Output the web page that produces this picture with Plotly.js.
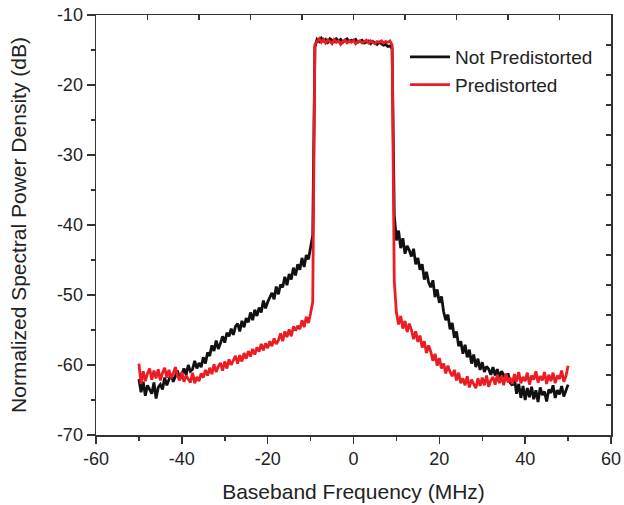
<!DOCTYPE html>
<html>
<head>
<meta charset="utf-8">
<script src="https://cdn.plot.ly/plotly-3.0.1.min.js"></script>
<style>html,body{margin:0;padding:0;background:#fff;}#chart{width:624px;height:505px;}</style>
</head>
<body>
<div id="chart"></div>
<script>
// Baseband frequency grid (MHz)
const freq = [
-50,-49.5,-49,-48.5,-48,-47.5,-47,-46.5,-46,-45.5,-45,-44.5,-44,-43.5,-43,-42.5,-42,-41.5,-41,-40.5,
-40,-39.5,-39,-38.5,-38,-37.5,-37,-36.5,-36,-35.5,-35,-34.5,-34,-33.5,-33,-32.5,-32,-31.5,-31,-30.5,
-30,-29.5,-29,-28.5,-28,-27.5,-27,-26.5,-26,-25.5,-25,-24.5,-24,-23.5,-23,-22.5,-22,-21.5,-21,-20.5,
-20,-19.5,-19,-18.5,-18,-17.5,-17,-16.5,-16,-15.5,-15,-14.5,-14,-13.5,-13,-12.5,-12,-11.5,-11,-10.5,-10,
-9.5,-9,
-8.5,-8,-7.5,-7,-6.5,-6,-5.5,-5,-4.5,-4,-3.5,-3,-2.5,-2,-1.5,-1,-0.5,0,0.5,1,1.5,2,2.5,3,3.5,4,4.5,5,5.5,6,6.5,7,7.5,8,8.5,
9,9.5,
10,10.5,11,11.5,12,12.5,13,13.5,14,14.5,15,15.5,16,16.5,17,17.5,18,18.5,19,19.5,
20,20.5,21,21.5,22,22.5,23,23.5,24,24.5,25,25.5,26,26.5,27,27.5,28,28.5,29,29.5,
30,30.5,31,31.5,32,32.5,33,33.5,34,34.5,35,35.5,36,36.5,37,37.5,38,38.5,39,39.5,
40,40.5,41,41.5,42,42.5,43,43.5,44,44.5,45,45.5,46,46.5,47,47.5,48,48.5,49,49.5,50
];

// Not Predistorted (dB)
const notPredistorted = [
-62.0,-63.9,-62.4,-64.4,-62.9,-63.6,-64.1,-62.5,-64.8,-63.2,-62.8,-63.5,-61.8,-62.9,-62.2,-61.3,-62.4,-61.7,-60.8,-62.1,
-61.2,-60.5,-61.4,-60.0,-60.9,-60.6,-59.4,-60.5,-59.7,-60.3,-58.9,-59.8,-58.2,-58.7,-57.2,-58.0,-56.5,-57.7,-56.9,-55.9,
-56.8,-55.4,-55.9,-54.8,-55.7,-54.5,-54.1,-55.2,-53.7,-54.6,-53.3,-53.9,-52.5,-53.6,-52.1,-53.0,-51.8,-52.5,-50.8,-51.9,
-51.0,-50.3,-49.7,-50.6,-48.8,-49.9,-48.5,-48.9,-47.4,-48.6,-47.0,-47.8,-46.1,-47.2,-45.6,-46.4,-44.7,-46.0,-44.3,-44.9,-43.3,
-41.5,-14.6,
-13.5,-13.8,-13.3,-13.7,-13.5,-13.9,-13.4,-13.6,-13.8,-13.4,-13.7,-13.5,-13.9,-13.6,-13.4,-13.8,-13.6,-13.7,-13.5,-13.9,
-13.7,-13.6,-14.0,-13.8,-13.7,-14.1,-13.8,-14.0,-14.2,-13.9,-14.1,-14.3,-14.2,-14.5,-14.4,
-14.8,-38.5,
-42.2,-40.8,-43.3,-41.9,-44.1,-43.0,-43.6,-44.5,-43.4,-45.6,-44.7,-46.4,-45.6,-47.8,-46.7,-48.2,-48.9,-47.9,-50.3,-49.2,
-51.1,-50.2,-52.4,-53.6,-52.8,-54.9,-54.0,-56.1,-55.2,-57.3,-56.6,-58.4,-57.1,-58.9,-57.8,-59.8,-58.5,-60.3,-59.1,-60.7,
-59.6,-61.0,-60.2,-60.6,-61.4,-60.3,-61.5,-60.6,-61.8,-60.9,-61.4,-62.0,-61.2,-62.5,-62.9,-61.9,-64.1,-62.7,-64.7,-63.0,
-65.0,-63.3,-64.6,-63.1,-64.9,-63.6,-65.3,-63.2,-64.3,-63.8,-65.2,-63.5,-64.0,-62.9,-64.7,-63.6,-64.2,-63.0,-64.5,-63.6,-62.8
];

// Predistorted (dB)
const predistorted = [
-59.8,-62.7,-60.9,-62.3,-61.2,-60.5,-62.1,-60.8,-61.9,-60.6,-62.2,-61.1,-60.4,-61.8,-60.7,-61.9,-61.2,-60.3,-61.6,-62.2,
-61.0,-62.4,-61.5,-62.0,-62.5,-61.1,-62.6,-61.7,-62.3,-61.2,-61.8,-60.7,-61.5,-60.4,-61.3,-59.9,-61.0,-60.2,-59.7,-60.8,
-59.5,-60.5,-59.2,-60.0,-59.4,-58.7,-59.8,-58.6,-59.5,-58.3,-59.1,-58.0,-58.8,-57.7,-58.5,-57.5,-58.1,-57.0,-57.9,-56.9,
-57.6,-56.6,-57.3,-56.2,-57.0,-56.5,-55.5,-56.6,-55.2,-56.0,-54.9,-55.9,-54.5,-55.1,-54.4,-54.9,-53.6,-54.6,-53.1,-54.0,-52.6,
-51.0,-14.2,
-13.7,-13.4,-13.9,-13.5,-14.0,-13.6,-13.8,-14.1,-13.5,-13.9,-13.7,-14.2,-13.8,-13.6,-14.0,-13.7,-13.9,-13.6,-14.1,-13.8,
-13.7,-14.0,-13.8,-13.6,-14.0,-13.7,-13.9,-14.1,-13.8,-13.9,-13.7,-14.0,-13.8,-13.9,-13.7,
-14.3,-48.0,
-52.5,-54.2,-53.0,-54.8,-53.7,-55.3,-54.1,-55.0,-56.3,-55.2,-56.7,-55.8,-57.5,-56.6,-58.3,-57.2,-58.1,-59.4,-58.4,-60.1,
-59.0,-60.5,-59.8,-61.2,-60.1,-61.0,-61.6,-60.7,-62.2,-61.1,-62.6,-61.9,-62.9,-61.6,-63.2,-62.1,-62.8,-63.3,-61.9,-63.0,
-61.8,-62.9,-61.5,-63.1,-62.2,-61.7,-62.8,-61.4,-62.6,-61.6,-62.9,-61.2,-62.5,-61.8,-62.7,-61.3,-62.4,-61.0,-62.6,-61.7,
-62.3,-61.1,-62.8,-61.5,-62.1,-60.9,-62.5,-61.6,-62.2,-61.0,-62.7,-61.4,-62.3,-61.1,-62.6,-61.5,-62.0,-60.8,-62.4,-61.6,-60.1
];

const seriesNames = ['Not Predistorted', 'Predistorted'];
const xTickVals = [-60, -40, -20, 0, 20, 40, 60];
const xTickText = ['-60', '-40', '-20', '0', '20', '40', '60'];
const yTickVals = [-70, -60, -50, -40, -30, -20, -10];
const yTickText = ['-70', '-60', '-50', '-40', '-30', '-20', '-10'];
const xTitle = 'Baseband Frequency (MHz)';
const yTitle = 'Normalized Spectral Power Density (dB)';

const fam = 'Liberation Sans, Arial, sans-serif';
const txt = '#222';
const axisColor = '#333';

const traces = [
  {x: freq, y: notPredistorted, name: seriesNames[0], type: 'scatter', mode: 'lines',
   line: {color: '#111111', width: 2.8}},
  {x: freq, y: predistorted, name: seriesNames[1], type: 'scatter', mode: 'lines',
   line: {color: '#ec1c24', width: 2.8}},
  // frame-only trace so the top/right tick axes are drawn
  {x: [null], y: [null], xaxis: 'x2', yaxis: 'y2', type: 'scatter', mode: 'lines',
   showlegend: false, hoverinfo: 'skip'}
];

const layout = {
  width: 624, height: 505,
  margin: {l: 96, r: 13, t: 15, b: 70},
  paper_bgcolor: '#fff', plot_bgcolor: '#fff',
  font: {family: fam, size: 17, color: txt},
  showlegend: true,
  legend: {x: 0.6, y: 0.945, xanchor: 'left', yanchor: 'top', bgcolor: 'rgba(0,0,0,0)',
           font: {family: fam, size: 19, color: txt}, tracegroupgap: 0, itemwidth: 40},
  xaxis: {
    range: [-60, 60], tickmode: 'array', tickvals: xTickVals, ticktext: xTickText,
    ticks: 'outside', ticklen: 7, tickwidth: 1.5,
    tickcolor: axisColor, showline: true, linecolor: axisColor, linewidth: 1.5,
    showgrid: false, zeroline: false,
    minor: {dtick: 10, tick0: 0, ticks: 'outside', ticklen: 4, tickwidth: 1.5, tickcolor: axisColor, showgrid: false},
    tickfont: {family: fam, size: 18, color: txt},
    title: {text: xTitle, font: {family: fam, size: 21, color: txt}, standoff: 16}
  },
  yaxis: {
    range: [-70, -10], tickmode: 'array', tickvals: yTickVals, ticktext: yTickText,
    ticks: 'outside', ticklen: 8, tickwidth: 1.5,
    tickcolor: axisColor, showline: true, linecolor: axisColor, linewidth: 1.5,
    showgrid: false, zeroline: false,
    minor: {dtick: 5, tick0: 0, ticks: 'outside', ticklen: 4, tickwidth: 1.5, tickcolor: axisColor, showgrid: false},
    tickfont: {family: fam, size: 18, color: txt},
    title: {text: yTitle, font: {family: fam, size: 21, color: txt}, standoff: 24}
  },
  xaxis2: {
    overlaying: 'x', side: 'top', anchor: 'y2', range: [0, 10], dtick: 1, ticks: 'inside', ticklen: 5,
    tickwidth: 1.5, tickcolor: axisColor, showticklabels: false, showline: true,
    linecolor: axisColor, linewidth: 1.5, showgrid: false, zeroline: false
  },
  yaxis2: {
    overlaying: 'y', side: 'right', anchor: 'x2', range: [0, 14], dtick: 1, ticks: 'inside', ticklen: 5,
    tickwidth: 1.5, tickcolor: axisColor, showticklabels: false, showline: true,
    linecolor: axisColor, linewidth: 1.5, showgrid: false, zeroline: false
  }
};

Plotly.newPlot('chart', traces, layout, {staticPlot: true, displayModeBar: false});
</script>
</body>
</html>
